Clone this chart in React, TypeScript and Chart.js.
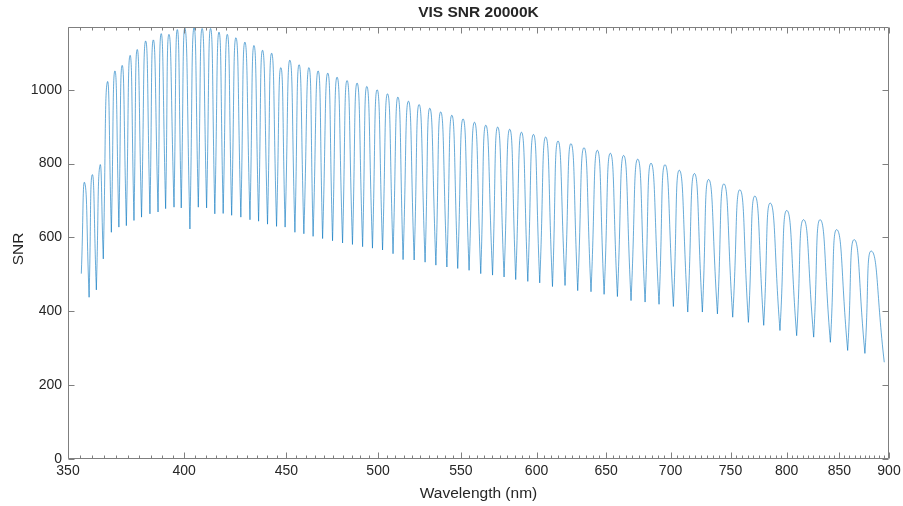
import React, { useEffect, useRef } from "react";
import { Chart, registerables } from "chart.js";

Chart.register(...registerables);

// Echelle order boundaries (cusps) in nm and SNR at those cusps
const orderEdgeWl = [355.4, 358.6, 361.6, 364.5, 367.9, 371.1, 374.3, 377.6, 380.9, 384.6, 388.2, 391.6, 395.4, 398.7, 402.7, 406.6, 410.5, 414.4, 418.4, 422.5, 427.0, 431.5, 435.8, 440.3, 444.9, 449.3, 454.4, 459.1, 464.0, 469.1, 474.5, 480.0, 485.5, 491.2, 496.8, 502.6, 508.7, 514.6, 521.2, 527.8, 534.4, 541.2, 548.0, 555.2, 562.7, 570.4, 578.0, 585.8, 594.0, 602.2, 611.1, 620.0, 629.1, 638.8, 648.5, 658.5, 668.9, 679.8, 690.8, 702.3, 714.0, 726.1, 738.8, 751.9, 765.6, 779.2, 793.9, 809.3, 825.3, 841.3, 858.2, 875.4, 895.1];
const orderEdgeSnr = [502, 438, 458, 542, 614, 628, 632, 646, 655, 664, 669, 678, 682, 680, 623, 682, 680, 664, 665, 660, 655, 648, 644, 636, 630, 628, 614, 610, 603, 597, 591, 585, 581, 575, 571, 566, 556, 540, 539, 533, 525, 520, 516, 511, 502, 498, 493, 486, 481, 477, 467, 470, 456, 453, 446, 440, 429, 425, 419, 413, 398, 398, 393, 384, 370, 362, 348, 334, 330, 316, 294, 286, 262];
// Blaze peak of each order
const orderPeakWl = [356.8, 359.9, 363.1, 366.2, 369.4, 372.5, 375.9, 379.0, 382.7, 386.1, 389.6, 393.1, 396.9, 400.4, 404.6, 408.4, 412.4, 416.4, 420.4, 424.6, 429.0, 433.5, 437.8, 442.4, 447.1, 451.8, 456.6, 461.8, 466.7, 471.9, 477.0, 482.5, 488.1, 493.6, 499.5, 505.5, 511.6, 517.8, 524.2, 530.7, 537.4, 544.3, 551.4, 558.7, 566.0, 573.8, 581.8, 589.7, 597.9, 606.4, 615.0, 624.3, 633.7, 643.5, 653.2, 663.3, 674.1, 684.5, 695.6, 707.2, 719.5, 731.4, 744.4, 758.2, 771.4, 785.2, 800.3, 815.8, 831.6, 847.7, 864.8, 882.2];
const orderPeakSnr = [748, 770, 795, 1021, 1051, 1066, 1093, 1109, 1132, 1135, 1152, 1150, 1163, 1168, 1170, 1166, 1166, 1156, 1150, 1141, 1129, 1120, 1107, 1099, 1060, 1080, 1068, 1060, 1051, 1045, 1034, 1025, 1018, 1009, 1000, 989, 980, 969, 960, 950, 940, 931, 921, 912, 904, 899, 893, 885, 879, 872, 861, 854, 843, 836, 828, 822, 812, 801, 797, 782, 773, 757, 745, 729, 712, 693, 673, 648, 648, 621, 594, 563];

const xTickValues = [350, 400, 450, 500, 550, 600, 650, 700, 750, 800, 850, 900];
const yTickValues = [0, 200, 400, 600, 800, 1000];
const xMinorStep = 5;

const titleText = "VIS SNR 20000K";
const xLabel = "Wavelength (nm)";
const yLabel = "SNR";

const FONT = '"Liberation Sans", Arial, Helvetica, sans-serif';
const TEXT = "#262626";
const AXIS = "#7f7f7f";

function buildPoints() {
  const pts: { x: number; y: number }[] = [];
  for (let i = 0; i < orderPeakWl.length; i++) {
    pts.push({ x: orderEdgeWl[i], y: orderEdgeSnr[i] });
    pts.push({ x: orderPeakWl[i], y: orderPeakSnr[i] });
    pts.push({ x: orderEdgeWl[i + 1], y: orderEdgeSnr[i + 1] });
  }
  return pts;
}

const framePlugin = {
  id: "matlabFrame",
  afterDraw(chart: any) {
    const { ctx, chartArea: a, scales } = chart;
    const xs = scales.x;
    const ys = scales.y;
    const L = Math.round(a.left) + 0.5;
    const R = Math.round(a.right) - 0.5;
    const T = Math.round(a.top) + 0.5;
    const B = Math.round(a.bottom) - 0.5;
    ctx.save();
    ctx.strokeStyle = AXIS;
    ctx.lineWidth = 1;
    ctx.beginPath();
    ctx.rect(L, T, R - L, B - T);
    const major = 6;
    const minor = 3;
    for (const v of xTickValues) {
      const px = Math.round(xs.getPixelForValue(v)) + 0.5;
      ctx.moveTo(px, B); ctx.lineTo(px, B - major);
      ctx.moveTo(px, T); ctx.lineTo(px, T + major);
    }
    for (let v = xTickValues[0] + xMinorStep; v < xTickValues[xTickValues.length - 1]; v += xMinorStep) {
      if (xTickValues.includes(v)) continue;
      const px = Math.round(xs.getPixelForValue(v)) + 0.5;
      ctx.moveTo(px, B); ctx.lineTo(px, B - minor);
      ctx.moveTo(px, T); ctx.lineTo(px, T + minor);
    }
    for (const v of yTickValues) {
      const py = Math.round(ys.getPixelForValue(v)) + 0.5;
      ctx.moveTo(L, py); ctx.lineTo(L + major, py);
      ctx.moveTo(R, py); ctx.lineTo(R - major, py);
    }
    ctx.stroke();

    ctx.fillStyle = TEXT;
    ctx.textAlign = "center";
    ctx.textBaseline = "middle";
    ctx.font = `bold 15.5px ${FONT}`;
    ctx.fillText(titleText, (a.left + a.right) / 2, 13);
    ctx.font = `15.5px ${FONT}`;
    ctx.fillText(xLabel, (a.left + a.right) / 2, 494);
    ctx.translate(19, 249);
    ctx.rotate(-Math.PI / 2);
    ctx.fillText(yLabel, 0, 0);
    ctx.restore();
  },
};

export default function App() {
  const ref = useRef<HTMLCanvasElement | null>(null);
  useEffect(() => {
    if (!ref.current) return;
    const chart = new Chart(ref.current, {
      type: "line",
      data: {
        datasets: [
          {
            data: buildPoints(),
            borderColor: "#0072BD",
            borderWidth: 0.6,
            pointRadius: 0,
            tension: 0.6,
            fill: false,
          },
        ],
      },
      options: {
        animation: false,
        responsive: false,
        devicePixelRatio: 1,
        layout: { padding: { top: 27, right: 14, left: 0, bottom: 0 } },
        plugins: {
          legend: { display: false },
          tooltip: { enabled: false },
          title: { display: false },
        },
        scales: {
          x: {
            type: "logarithmic",
            min: 350,
            max: 900,
            afterBuildTicks: (s: any) => {
              s.ticks = xTickValues.map((v) => ({ value: v }));
            },
            afterFit: (s: any) => {
              s.height = 47;
              s.paddingLeft = 0;
              s.paddingRight = 0;
            },
            grid: { display: false, drawTicks: false },
            border: { display: false },
            ticks: {
              padding: 4,
              autoSkip: false,
              maxRotation: 0,
              color: TEXT,
              font: { family: FONT, size: 14 },
              callback: (v: any) => String(v),
            },
          },
          y: {
            type: "linear",
            min: 0,
            max: 1170,
            afterBuildTicks: (s: any) => {
              s.ticks = yTickValues.map((v) => ({ value: v }));
            },
            afterFit: (s: any) => {
              s.width = 68;
              s.paddingTop = 0;
              s.paddingBottom = 0;
            },
            grid: { display: false, drawTicks: false },
            border: { display: false },
            ticks: {
              padding: 6,
              color: TEXT,
              font: { family: FONT, size: 14 },
              callback: (v: any) => String(v),
            },
          },
        },
      },
      plugins: [framePlugin],
    });
    return () => chart.destroy();
  }, []);
  return (
    <div style={{ position: "absolute", left: 0, top: 0, width: 903, height: 506, background: "#fff" }}>
      <canvas ref={ref} width={903} height={506} style={{ display: "block" }} />
    </div>
  );
}
